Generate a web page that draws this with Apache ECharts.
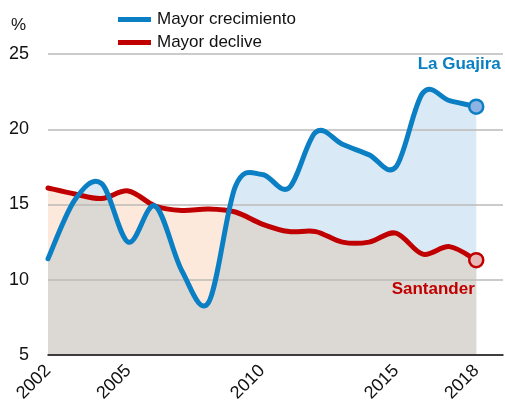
<!DOCTYPE html>
<html>
<head>
<meta charset="utf-8">
<script src="https://cdn.jsdelivr.net/npm/echarts@6/dist/echarts.min.js"></script>
<style>
  html, body { margin: 0; padding: 0; background: #fff; }
  #main { width: 505px; height: 403px; }
</style>
</head>
<body>
<div id="main"></div>
<script>
// years on the axis (2019 is just empty room after the last point)
let years = ["2002", "2003", "2004", "2005", "2006", "2007", "2008", "2009", "2010",
             "2011", "2012", "2013", "2014", "2015", "2016", "2017", "2018", "2019"];
let shownYears = ["2002", "2005", "2010", "2015", "2018"];
let yTicks = [5, 10, 15, 20, 25];

let legendNames = ["Mayor crecimiento", "Mayor declive"];
let regionNames = ["La Guajira", "Santander"];

// La Guajira (blue)
let guajira = [11.4, 15.3, 16.4, 12.5, 14.9, 10.6, 8.5, 16.2, 17.0,
               16.1, 19.8, 19.0, 18.3, 17.5, 22.4, 21.9, 21.5];
// Santander (red)
let santander = [16.1, 15.7, 15.4, 15.9, 14.9, 14.6, 14.7, 14.5, 13.7,
                 13.2, 13.2, 12.5, 12.5, 13.1, 11.7, 12.2, 11.3];

let blue = "#0b7fc3";
let red = "#c00000";
let blueFill = "#d9eaf6";
let redFill = "#fce9dc";
let bothFill = "#dcd9d5";

// control points for segment i (catmull-rom style, like a spreadsheet's smoothed line)
function controls(pts, i) {
    let p0 = pts[Math.max(i - 1, 0)];
    let p1 = pts[i];
    let p2 = pts[i + 1];
    let p3 = pts[Math.min(i + 2, pts.length - 1)];
    return [
        [p1[0] + (p2[0] - p0[0]) / 6, p1[1] + (p2[1] - p0[1]) / 6],
        [p2[0] - (p3[0] - p1[0]) / 6, p2[1] - (p3[1] - p1[1]) / 6]
    ];
}

function curvePath(pts) {
    let d = "M" + pts[0][0] + " " + pts[0][1];
    for (let i = 0; i < pts.length - 1; i = i + 1) {
        let c = controls(pts, i);
        d += " C" + c[0][0] + " " + c[0][1] + " " + c[1][0] + " " + c[1][1] + " " + pts[i + 1][0] + " " + pts[i + 1][1];
    }
    return d;
}

// points along the drawn curve, used to find where one curve is under the other
function curveSamples(pts, steps) {
    let out = [];
    for (let i = 0; i < pts.length - 1; i = i + 1) {
        let c = controls(pts, i);
        let a = pts[i], b = pts[i + 1];
        for (let s = 0; s < steps; s = s + 1) {
            let t = s / steps, u = 1 - t;
            out.push([
                u * u * u * a[0] + 3 * u * u * t * c[0][0] + 3 * u * t * t * c[1][0] + t * t * t * b[0],
                u * u * u * a[1] + 3 * u * u * t * c[0][1] + 3 * u * t * t * c[1][1] + t * t * t * b[1]
            ]);
        }
    }
    out.push(pts[pts.length - 1]);
    return out;
}

function toPixels(api, values) {
    let pts = [];
    for (let i = 0; i < values.length; i = i + 1) {
        pts.push(api.coord([i, values[i]]));
    }
    return pts;
}

function closeArea(d, first, last, base) {
    return d + " L" + last[0] + " " + base + " L" + first[0] + " " + base + " Z";
}

function renderFills(params, api) {
    if (params.dataIndex !== 0) return;
    let base = api.coord([0, yTicks[0]])[1];
    let bPts = toPixels(api, guajira);
    let rPts = toPixels(api, santander);
    let bS = curveSamples(bPts, 24);
    let rS = curveSamples(rPts, 24);
    let lower = "";
    for (let k = 0; k < bS.length; k = k + 1) {
        let p = bS[k][1] > rS[k][1] ? bS[k] : rS[k];
        lower += (k === 0 ? "M" : " L") + p[0] + " " + p[1];
    }
    return {
        type: "group",
        children: [
            { type: "path", shape: { pathData: closeArea(curvePath(bPts), bPts[0], bPts[bPts.length - 1], base) }, style: { fill: blueFill } },
            { type: "path", shape: { pathData: closeArea(curvePath(rPts), rPts[0], rPts[rPts.length - 1], base) }, style: { fill: redFill } },
            { type: "path", shape: { pathData: closeArea(lower, bS[0], bS[bS.length - 1], base) }, style: { fill: bothFill } }
        ]
    };
}

function lineRenderer(values, color) {
    return function (params, api) {
        if (params.dataIndex !== 0) return;
        return {
            type: "path",
            shape: { pathData: curvePath(toPixels(api, values)) },
            style: { fill: "none", stroke: color, lineWidth: 5, lineJoin: "round", lineCap: "round" }
        };
    };
}

function lastPoint(arr) {
    let data = [];
    for (let i = 0; i < arr.length; i = i + 1) {
        data.push(i === arr.length - 1 ? arr[i] : null);
    }
    return data;
}

let myChart = echarts.init(document.getElementById("main"));

let option = {
    animation: false,
    textStyle: { fontFamily: "Liberation Sans, Arial, sans-serif" },
    title: {
        text: "%",
        left: 6,
        top: 12,
        textStyle: { fontSize: 17, fontWeight: "normal", color: "#111" }
    },
    legend: {
        data: legendNames,
        orient: "vertical",
        left: 113,
        top: 6,
        icon: "rect",
        itemWidth: 33,
        itemHeight: 5,
        itemGap: 6,
        textStyle: { fontSize: 17, color: "#111", padding: [0, 0, 0, 1] }
    },
    grid: { left: 48, right: 2, top: 54, bottom: 48, containLabel: false, outerBoundsMode: "none" },
    xAxis: {
        type: "category",
        data: years,
        boundaryGap: false,
        z: 10,
        axisLine: { lineStyle: { color: "#111", width: 1.5 } },
        axisTick: { show: false },
        axisLabel: {
            interval: function (index, value) { return shownYears.indexOf(value) >= 0; },
            rotate: 45,
            margin: 13,
            fontSize: 18,
            color: "#111"
        },
        splitLine: { show: false }
    },
    yAxis: {
        type: "value",
        min: yTicks[0],
        max: yTicks[yTicks.length - 1],
        interval: 5,
        z: 2,
        axisLine: { show: false },
        axisTick: { show: false },
        axisLabel: { fontSize: 18, color: "#111", margin: 19 },
        splitLine: { lineStyle: { color: "#bdbab7", width: 1.5 } }
    },
    series: [
        {
            name: "fills",
            type: "custom",
            data: [[0, yTicks[0]]],
            renderItem: renderFills,
            silent: true,
            z: 1
        },
        {
            name: legendNames[1],
            type: "custom",
            data: [[0, yTicks[0]]],
            renderItem: lineRenderer(santander, red),
            itemStyle: { color: red },
            silent: true,
            z: 4
        },
        {
            name: legendNames[0],
            type: "custom",
            data: [[0, yTicks[0]]],
            renderItem: lineRenderer(guajira, blue),
            itemStyle: { color: blue },
            silent: true,
            z: 5
        },
        {
            name: "end-blue",
            type: "scatter",
            data: lastPoint(guajira),
            symbolSize: 14,
            itemStyle: { color: "#8db3e2", borderColor: blue, borderWidth: 2.5, opacity: 1 },
            label: {
                show: true,
                position: "inside",
                offset: [-17, -42],
                formatter: regionNames[0],
                fontSize: 17,
                fontWeight: "bold",
                color: blue
            },
            z: 6
        },
        {
            name: "end-red",
            type: "scatter",
            data: lastPoint(santander),
            symbolSize: 14,
            itemStyle: { color: "#e6b8b7", borderColor: red, borderWidth: 2.5, opacity: 1 },
            label: {
                show: true,
                position: "inside",
                offset: [-43, 29],
                formatter: regionNames[1],
                fontSize: 17,
                fontWeight: "bold",
                color: red
            },
            z: 6
        }
    ]
};

myChart.setOption(option);
</script>
</body>
</html>
